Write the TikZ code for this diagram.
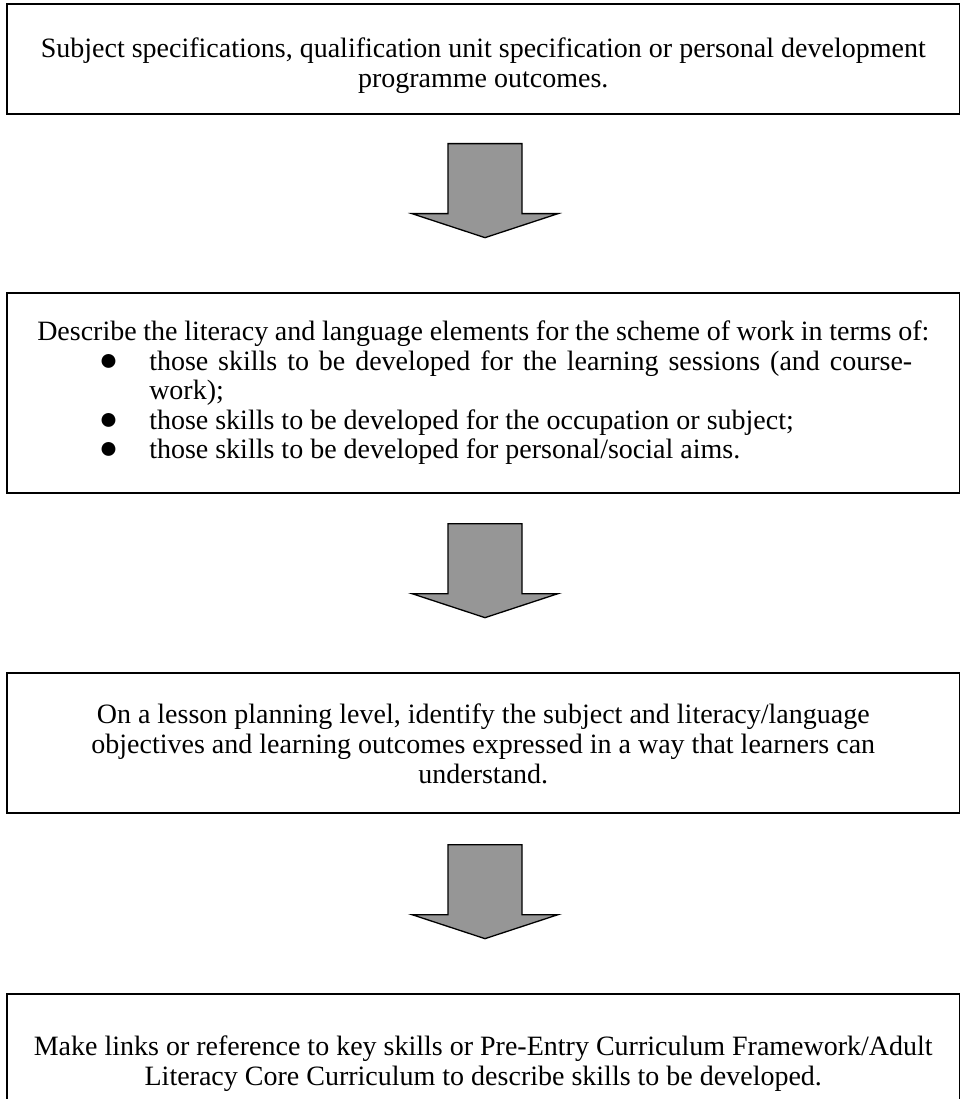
\documentclass[tikz,border=0pt]{standalone}
\usepackage{fontspec}
\usepackage{graphicx}
\setmainfont{Liberation Serif}
\usetikzlibrary{calc}

% bullet used in the list of the second box
\newcommand{\listdot}{\smash{\scalebox{1.15}{\symbol{"25CF}}}}

\tikzset{
  stepbox/.style={draw=black, line width=1.3pt, fill=white,
    minimum width=952.5pt, inner sep=0pt, align=center,
    font=\fontsize{28}{30}\selectfont},
  arrowbody/.style={draw=black, line width=1.3pt, fill=black!41,
    line join=miter},
  downarrow/.pic={
    \path[arrowbody] (-37,0) -- (37,0) -- (37,70) -- (73,70) -- (0,94)
      -- (-73,70) -- (-37,70) -- cycle;
  }
}

\begin{document}
\begin{tikzpicture}[x=1pt, y=-1pt]
\useasboundingbox (0,0) rectangle (961,1099);
\clip (0,0) rectangle (961,1099);

\node[stepbox, minimum height=110pt] (b1) at (483.25,59)
  {\rule{0pt}{33pt}Subject specifications, qualification unit specification or personal development\\
   programme outcomes.};

\node[stepbox, minimum height=200pt] (b2) at (483.25,393)
  {\begin{minipage}{892pt}
   \fontsize{28}{29.5}\selectfont
   {\centering Describe the literacy and language elements for the scheme of work in terms of:\par}
   \begin{list}{\listdot}{\setlength{\leftmargin}{112pt}\setlength{\rightmargin}{17pt}
       \setlength{\labelsep}{31pt}\setlength{\labelwidth}{60pt}
       \setlength{\topsep}{0pt}\setlength{\partopsep}{0pt}
       \setlength{\itemsep}{0pt}\setlength{\parsep}{0pt}}
     \item those skills to be developed for the learning sessions (and course-\linebreak work);
     \item those skills to be developed for the occupation or subject;
     \item those skills to be developed for personal/social aims.
   \end{list}
   \end{minipage}};

\node[stepbox, minimum height=140pt] (b3) at (483.25,743)
  {\rule{0pt}{22pt}On a lesson planning level, identify the subject and literacy/language\\
   objectives and learning outcomes expressed in a way that learners can\\
   understand.};

\node[stepbox, minimum height=136pt] (b4) at (483.25,1062)
  {\rule{0pt}{24pt}Make links or reference to key skills or Pre-Entry Curriculum Framework/Adult\\
   Literacy Core Curriculum to describe skills to be developed.};

% block arrows between consecutive boxes
\pic at ($(b1.south)+(1.75,29)$) {downarrow};
\pic at ($(b2.south)+(1.75,30)$) {downarrow};
\pic at ($(b3.south)+(1.75,31)$) {downarrow};
\end{tikzpicture}
\end{document}
